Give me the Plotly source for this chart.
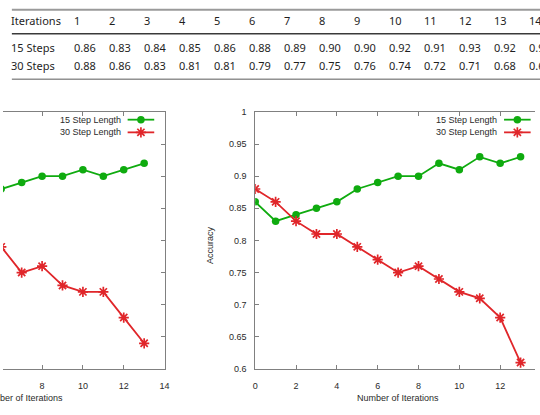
import plotly.graph_objects as go

# ---------------- data ----------------
iterations = list(range(1, 15))
steps15 = [0.86, 0.83, 0.84, 0.85, 0.86, 0.88, 0.89, 0.90, 0.90, 0.92, 0.91, 0.93, 0.92, 0.93]
steps30 = [0.88, 0.86, 0.83, 0.81, 0.81, 0.79, 0.77, 0.75, 0.76, 0.74, 0.72, 0.71, 0.68, 0.61]
right_x = list(range(0, 14))

left_x = [6, 7, 8, 9, 10, 11, 12, 13]
left_15 = [0.88, 0.89, 0.90, 0.90, 0.91, 0.90, 0.91, 0.92]
left_30 = [0.79, 0.75, 0.76, 0.73, 0.72, 0.72, 0.68, 0.64]

y_tickvals = [0.6, 0.65, 0.7, 0.75, 0.8, 0.85, 0.9, 0.95, 1.0]
y_ticktext = ["0.6", "0.65", "0.7", "0.75", "0.8", "0.85", "0.9", "0.95", "1"]
x_tickvals = [0, 2, 4, 6, 8, 10, 12, 14]
x_ticktext = ["0", "2", "4", "6", "8", "10", "12", "14"]

table_header = "Iterations"
row_labels = ["15 Steps", "30 Steps"]
series_names = ["15 Step Length", "30 Step Length"]
x_title = "Number of Iterations"
y_title = "Accuracy"

# ---------------- layout helpers ----------------
W, H = 540, 415
GREEN = "#0fab0f"
RED = "#e0262a"
AXC = "#808080"
TXT = "#2a2a2a"
PFONT = "Liberation Sans, Arial, sans-serif"
TFONT = "Noto Sans, Open Sans, sans-serif"

def px(x):
    return x / W

def py(y):
    return 1 - y / H

X_UNIT = 20.72
Y_TOP, Y_BOT = 109.5, 373.0
L_RIGHT = 164.0
R_LEFT = 256.0

fig = go.Figure()

circle_mk = dict(symbol="circle", size=7.5, color=GREEN)
star_mk = dict(symbol="asterisk-open", size=8.5, color=RED, line=dict(color=RED, width=1.7))

# left (cropped) plot
fig.add_trace(go.Scatter(x=left_x, y=left_15, mode="lines+markers", xaxis="x", yaxis="y",
                         line=dict(color=GREEN, width=1.8), marker=circle_mk, showlegend=False))
fig.add_trace(go.Scatter(x=left_x, y=left_30, mode="lines+markers", xaxis="x", yaxis="y",
                         line=dict(color=RED, width=1.8), marker=star_mk, showlegend=False))
# right plot
fig.add_trace(go.Scatter(x=right_x, y=steps15, mode="lines+markers", xaxis="x2", yaxis="y2",
                         line=dict(color=GREEN, width=1.8), marker=circle_mk, showlegend=False))
fig.add_trace(go.Scatter(x=right_x, y=steps30, mode="lines+markers", xaxis="x2", yaxis="y2",
                         line=dict(color=RED, width=1.8), marker=star_mk, showlegend=False))

# custom gnuplot-style keys (text left of sample), drawn on a pixel overlay axis
def add_key(frame_right):
    s_end = frame_right - 10.5
    s_start = s_end - 27
    t_right = s_start - 5
    rows = [117.5, 130.5]
    styles = [(GREEN, circle_mk), (RED, star_mk)]
    for name, yy, (col, mk) in zip(series_names, rows, styles):
        fig.add_trace(go.Scatter(x=[s_start, s_end], y=[yy, yy], mode="lines", xaxis="x3", yaxis="y3",
                                 line=dict(color=col, width=1.8), showlegend=False, hoverinfo="skip"))
        fig.add_trace(go.Scatter(x=[(s_start + s_end) / 2], y=[yy], mode="markers", xaxis="x3", yaxis="y3",
                                 marker=mk, showlegend=False, hoverinfo="skip"))
        fig.add_annotation(x=px(t_right), y=py(yy), xref="paper", yref="paper", text=name,
                           showarrow=False, xanchor="right", yanchor="middle",
                           font=dict(family=PFONT, size=9, color=TXT))

add_key(L_RIGHT)
add_key(R_LEFT + 14 * X_UNIT)

axis_common = dict(showgrid=False, zeroline=False, showline=True, linecolor=AXC, linewidth=1,
                   ticks="inside", ticklen=4, tickcolor=AXC, tickwidth=1,
                   tickfont=dict(family=PFONT, size=9, color=TXT))

ydom = [py(Y_BOT), py(Y_TOP)]

fig.update_layout(
    width=W, height=H, margin=dict(l=0, r=0, t=0, b=0),
    paper_bgcolor="white", plot_bgcolor="rgba(0,0,0,0)", showlegend=False,
    xaxis=dict(domain=[0, px(L_RIGHT)], range=[14 - L_RIGHT / X_UNIT, 14],
               tickvals=x_tickvals, ticktext=x_ticktext, mirror="ticks",
               ticklabelstandoff=8, anchor="y", **axis_common),
    yaxis=dict(domain=ydom, range=[0.6, 1.0], tickvals=y_tickvals, ticktext=y_ticktext,
               side="right", showticklabels=False, anchor="x", **axis_common),
    xaxis2=dict(domain=[px(R_LEFT), 1.0], range=[0, (W - R_LEFT) / X_UNIT],
                tickvals=x_tickvals, ticktext=x_ticktext, mirror="ticks",
                ticklabelstandoff=8, anchor="y2", **axis_common),
    yaxis2=dict(domain=ydom, range=[0.6, 1.0], tickvals=y_tickvals, ticktext=y_ticktext,
                ticklabelstandoff=6, anchor="x2", **axis_common),
    xaxis3=dict(domain=[0, 1], range=[0, W], visible=False, fixedrange=True, anchor="y3"),
    yaxis3=dict(domain=[0, 1], range=[H, 0], visible=False, fixedrange=True, anchor="x3"),
)

# axis titles
fig.add_annotation(x=px(R_LEFT + 7 * X_UNIT), y=py(403), xref="paper", yref="paper", text=x_title,
                   showarrow=False, xanchor="center", yanchor="middle",
                   font=dict(family=PFONT, size=9, color=TXT))
fig.add_annotation(x=px(L_RIGHT - 7 * X_UNIT), y=py(403), xref="paper", yref="paper", text=x_title,
                   showarrow=False, xanchor="center", yanchor="middle",
                   font=dict(family=PFONT, size=9, color=TXT))
fig.add_annotation(x=px(210), y=py(246), xref="paper", yref="paper", text=y_title, textangle=-90,
                   showarrow=False, xanchor="center", yanchor="middle",
                   font=dict(family=PFONT, size=9, color=TXT))

# ---------------- table ----------------
COL0 = 70.0
COLW = 35.5
HDR_Y, R1_Y, R2_Y = 15.7, 44.0, 62.3
tfont = dict(family=TFONT, size=11, color="#1e1e1e")

fig.add_shape(type="line", xref="paper", yref="paper", x0=px(9), x1=1.05, y0=py(4.8), y1=py(4.8),
              line=dict(color="#9a9a9a", width=2))
fig.add_shape(type="line", xref="paper", yref="paper", x0=px(9), x1=1.05, y0=py(29.5), y1=py(29.5),
              line=dict(color="#3a3a3a", width=1.5))
fig.add_shape(type="line", xref="paper", yref="paper", x0=px(9), x1=1.05, y0=py(76), y1=py(76),
              line=dict(color="#5a5a5a", width=1))

fig.add_annotation(x=px(6), y=py(HDR_Y), xref="paper", yref="paper", text=table_header,
                   showarrow=False, xanchor="left", yanchor="middle", font=tfont)
for lab, yy in zip(row_labels, [R1_Y, R2_Y]):
    fig.add_annotation(x=px(6), y=py(yy), xref="paper", yref="paper", text=lab,
                       showarrow=False, xanchor="left", yanchor="middle", font=tfont)

for i, it in enumerate(iterations):
    cx = COL0 + COLW * i
    fig.add_annotation(x=px(cx), y=py(HDR_Y), xref="paper", yref="paper", text=str(it),
                       showarrow=False, xanchor="left", yanchor="middle", font=tfont)
    for vals, yy in zip([steps15, steps30], [R1_Y, R2_Y]):
        fig.add_annotation(x=px(cx), y=py(yy), xref="paper", yref="paper", text=f"{vals[i]:.2f}",
                           showarrow=False, xanchor="left", yanchor="middle", font=tfont)

fig.write_html("out.html")
